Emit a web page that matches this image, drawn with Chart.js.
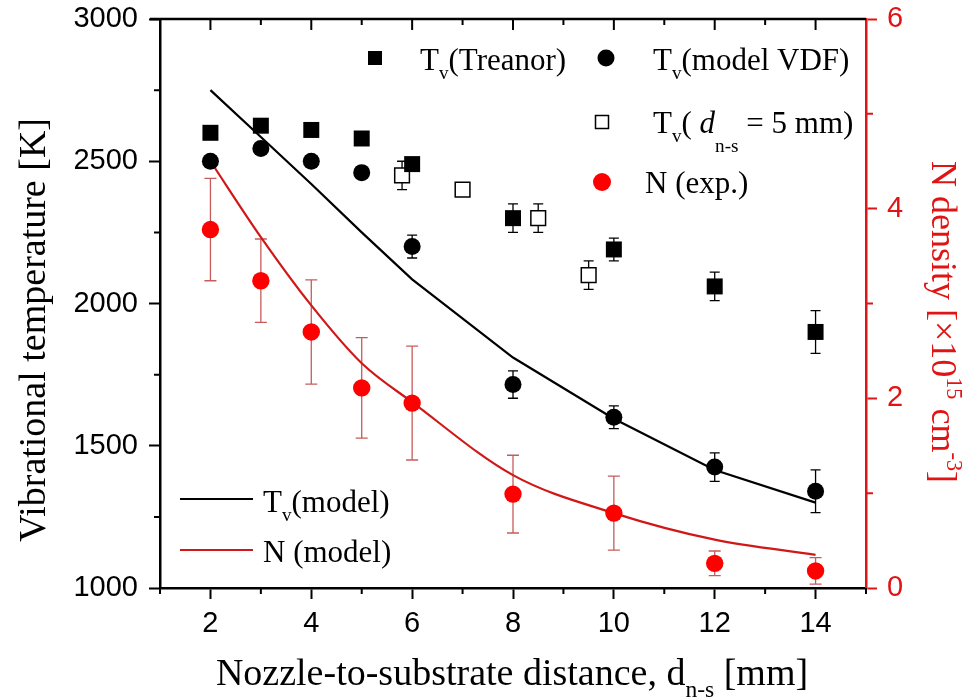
<!DOCTYPE html>
<html>
<head>
<meta charset="utf-8">
<script src="https://cdn.jsdelivr.net/npm/chart.js@4.4.0/dist/chart.umd.min.js"></script>
<style>
  html, body { margin: 0; padding: 0; background: #fff; }
  #caixa { width: 971px; height: 700px; }
</style>
</head>
<body>
<div id="caixa"><canvas id="grafico" width="971" height="700"></canvas></div>
<script>
// dados
const distancia = [2, 3, 4, 5, 6, 8, 10, 12, 14];
const tvTreanor = [2600, 2625, 2610, 2580, 2490, 2300, 2190, 2060, 1900];
const tvTreanorErro = [0, 0, 0, 0, 0, 50, 40, 50, 75];
const tvVdf = [2500, 2545, 2500, 2460, 2200, 1715, 1600, 1425, 1340];
const tvVdfErro = [0, 0, 0, 0, 40, 48, 40, 50, 75];
const dist5mm = [5.8, 7, 8.5, 9.5];
const tv5mm = [2450, 2400, 2300, 2100];
const tv5mmErro = [50, 0, 50, 50];
const nExp = [3.78, 3.24, 2.70, 2.11, 1.95, 0.99, 0.79, 0.26, 0.18];
const nExpErro = [0.54, 0.44, 0.55, 0.53, 0.60, 0.41, 0.39, 0.13, 0.14];
const distModelo = [2, 3, 4, 5, 6, 8, 10, 12, 14];
const tvModelo = [2750, 2585, 2420, 2250, 2085, 1810, 1595, 1415, 1300];
const nModelo = [4.5, 3.70, 2.98, 2.37, 1.96, 1.19, 0.79, 0.51, 0.35];

const xTicks = [2, 4, 6, 8, 10, 12, 14];
const xMenores = [1, 3, 5, 7, 9, 11, 13, 15];
const yTicks = [1000, 1500, 2000, 2500, 3000];
const yMenores = [1250, 1750, 2250, 2750];
const y2Ticks = [0, 2, 4, 6];
const y2Menores = [1, 3, 5];

const VERMELHO = '#ff0000';
const EIXO_VERMELHO = '#e01414';
const SERIF = '"Liberation Serif", "Times New Roman", serif';
const SANS = '"Liberation Sans", Arial, sans-serif';

function pontos(xs, ys) {
    return xs.map((x, i) => ({ x: x, y: ys[i] }));
}

// texto com subscrito / sobrescrito
function medeTexto(ctx, partes, tam) {
    let w = 0;
    partes.forEach(p => {
        let s = (p.sub || p.sup) ? tam * 0.62 : tam;
        ctx.font = (p.it ? 'italic ' : '') + s + 'px ' + SERIF;
        w += ctx.measureText(p.t).width;
    });
    return w;
}

function escreve(ctx, x, y, partes, tam) {
    ctx.textAlign = 'left';
    ctx.textBaseline = 'alphabetic';
    partes.forEach(p => {
        let s = (p.sub || p.sup) ? tam * 0.62 : tam;
        ctx.font = (p.it ? 'italic ' : '') + s + 'px ' + SERIF;
        let dy = p.sub ? tam * (p.baixo || 0.3) : p.sup ? -tam * 0.42 : 0;
        ctx.fillText(p.t, x, y + dy);
        x += ctx.measureText(p.t).width;
    });
}

const barrasErro = {
    id: 'barrasErro',
    beforeDatasetsDraw(chart) {
        const ctx = chart.ctx;
        const sx = chart.scales.x;
        chart.data.datasets.forEach(ds => {
            if (!ds.erros) return;
            const sy = chart.scales[ds.yAxisID];
            ctx.save();
            ctx.strokeStyle = ds.corErro;
            ctx.lineWidth = 1.3;
            ds.data.forEach((p, i) => {
                const e = ds.erros[i];
                if (!e) return;
                const px = sx.getPixelForValue(p.x);
                const y1 = sy.getPixelForValue(p.y + e);
                const y2 = sy.getPixelForValue(p.y - e);
                const c = ds.capa;
                ctx.beginPath();
                ctx.moveTo(px, y1); ctx.lineTo(px, y2);
                ctx.moveTo(px - c, y1); ctx.lineTo(px + c, y1);
                ctx.moveTo(px - c, y2); ctx.lineTo(px + c, y2);
                ctx.stroke();
            });
            ctx.restore();
        });
    }
};

const extras = {
    id: 'extras',
    afterDraw(chart) {
        const ctx = chart.ctx;
        const a = chart.chartArea;
        const sx = chart.scales.x, sy = chart.scales.y, sy2 = chart.scales.y2;
        ctx.save();

        // eixo de cima com ticks para dentro
        ctx.strokeStyle = '#000';
        ctx.lineWidth = 2.5;
        ctx.beginPath();
        ctx.moveTo(a.left - 10, a.top);
        ctx.lineTo(a.right, a.top);
        ctx.stroke();
        ctx.lineWidth = 2;
        ctx.beginPath();
        xTicks.forEach(v => {
            const px = sx.getPixelForValue(v);
            ctx.moveTo(px, a.top); ctx.lineTo(px, a.top + 11);
        });
        xMenores.forEach(v => {
            if (v <= 1 || v >= 15) return;
            const px = sx.getPixelForValue(v);
            ctx.moveTo(px, a.top); ctx.lineTo(px, a.top + 6);
        });
        // ticks menores embaixo e a esquerda
        xMenores.forEach(v => {
            const px = sx.getPixelForValue(v);
            ctx.moveTo(px, a.bottom); ctx.lineTo(px, a.bottom + 6);
        });
        yMenores.forEach(v => {
            const py = sy.getPixelForValue(v);
            ctx.moveTo(a.left, py); ctx.lineTo(a.left - 6, py);
        });
        ctx.stroke();
        ctx.strokeStyle = EIXO_VERMELHO;
        ctx.beginPath();
        y2Menores.forEach(v => {
            const py = sy2.getPixelForValue(v);
            ctx.moveTo(a.right, py); ctx.lineTo(a.right + 7, py);
        });
        ctx.stroke();

        // titulos dos eixos
        ctx.fillStyle = '#000';
        let tEsq = [{ t: 'Vibrational temperature [K]' }];
        let w = medeTexto(ctx, tEsq, 38);
        ctx.save();
        ctx.translate(45, 330);
        ctx.rotate(-Math.PI / 2);
        escreve(ctx, -w / 2, 0, tEsq, 38);
        ctx.restore();

        let tX = [{ t: 'Nozzle-to-substrate distance, d' }, { t: 'n-s', sub: true, baixo: 0.32 }, { t: ' [mm]' }];
        w = medeTexto(ctx, tX, 38);
        escreve(ctx, 512 - w / 2, 685, tX, 38);

        ctx.fillStyle = EIXO_VERMELHO;
        let tDir = [{ t: 'N density [\u00d710' }, { t: '15', sup: true }, { t: ' cm' }, { t: '-3', sup: true }, { t: ']' }];
        w = medeTexto(ctx, tDir, 36);
        ctx.save();
        ctx.translate(932, 322);
        ctx.rotate(Math.PI / 2);
        escreve(ctx, -w / 2, 0, tDir, 36);
        ctx.restore();

        // legendas
        ctx.fillStyle = '#000';
        ctx.fillRect(375 - 7, 58 - 7, 14, 14);
        escreve(ctx, 420, 70, [{ t: 'T' }, { t: 'v', sub: true }, { t: '(Treanor)' }], 31);
        ctx.beginPath();
        ctx.arc(606, 58, 8.5, 0, Math.PI * 2);
        ctx.fill();
        escreve(ctx, 653, 70, [{ t: 'T' }, { t: 'v', sub: true }, { t: '(model VDF)' }], 31);
        ctx.strokeStyle = '#000';
        ctx.lineWidth = 1.5;
        ctx.strokeRect(602 - 6.5, 122 - 6.5, 13, 13);
        escreve(ctx, 653, 133, [{ t: 'T' }, { t: 'v', sub: true }, { t: '( ' }, { t: 'd', it: true }, { t: 'n-s', sub: true, baixo: 0.6 }, { t: ' = 5 mm)' }], 31);
        ctx.fillStyle = VERMELHO;
        ctx.beginPath();
        ctx.arc(602, 182, 9, 0, Math.PI * 2);
        ctx.fill();
        ctx.fillStyle = '#000';
        escreve(ctx, 645, 193, [{ t: 'N (exp.)' }], 31);

        ctx.lineWidth = 2.2;
        ctx.strokeStyle = '#000';
        ctx.beginPath(); ctx.moveTo(180, 499); ctx.lineTo(253, 499); ctx.stroke();
        escreve(ctx, 263, 512, [{ t: 'T' }, { t: 'v', sub: true }, { t: '(model)' }], 31);
        ctx.strokeStyle = '#d01818';
        ctx.beginPath(); ctx.moveTo(180, 550); ctx.lineTo(253, 550); ctx.stroke();
        escreve(ctx, 263, 562, [{ t: 'N (model)' }], 31);

        ctx.restore();
    }
};

const fonteTicks = { family: SANS, size: 29 };

function ajustaVertical(largura) {
    return s => {
        s.width = largura;
        s.paddingTop = 0;
        s.paddingBottom = 0;
    };
}

const config = {
    type: 'scatter',
    data: {
        datasets: [{
            label: 'Tv(Treanor)',
            data: pontos(distancia, tvTreanor),
            yAxisID: 'y',
            pointStyle: 'rect',
            pointRadius: 11.3,
            backgroundColor: '#000',
            borderWidth: 0,
            erros: tvTreanorErro,
            corErro: '#000',
            capa: 5
        }, {
            label: 'Tv(model VDF)',
            data: pontos(distancia, tvVdf),
            yAxisID: 'y',
            pointStyle: 'circle',
            pointRadius: 8.5,
            backgroundColor: '#000',
            borderWidth: 0,
            erros: tvVdfErro,
            corErro: '#000',
            capa: 5
        }, {
            label: 'Tv(d = 5 mm)',
            data: pontos(dist5mm, tv5mm),
            yAxisID: 'y',
            pointStyle: 'rect',
            pointRadius: 10.4,
            backgroundColor: '#fff',
            borderColor: '#000',
            borderWidth: 1.5,
            erros: tv5mmErro,
            corErro: '#000',
            capa: 5
        }, {
            label: 'N (exp.)',
            data: pontos(distancia, nExp),
            yAxisID: 'y2',
            pointStyle: 'circle',
            pointRadius: 8.7,
            backgroundColor: VERMELHO,
            borderWidth: 0,
            erros: nExpErro,
            corErro: 'rgba(185, 50, 50, 0.8)',
            capa: 6
        }, {
            label: 'Tv(model)',
            data: pontos(distModelo, tvModelo),
            yAxisID: 'y',
            showLine: true,
            pointRadius: 0,
            borderColor: '#000',
            borderWidth: 2.2
        }, {
            label: 'N (model)',
            data: pontos(distModelo, nModelo),
            yAxisID: 'y2',
            showLine: true,
            pointRadius: 0,
            borderColor: '#d01818',
            borderWidth: 2.2,
            cubicInterpolationMode: 'monotone'
        }]
    },
    options: {
        responsive: false,
        animation: false,
        devicePixelRatio: 1,
        layout: { padding: { top: 19, left: 0, right: 0, bottom: 0 } },
        plugins: {
            legend: { display: false },
            tooltip: { enabled: false }
        },
        scales: {
            x: {
                type: 'linear',
                position: 'bottom',
                min: 1,
                max: 15,
                afterBuildTicks: s => { s.ticks = xTicks.map(v => ({ value: v })); },
                afterFit: s => { s.height = 112; s.paddingLeft = 0; s.paddingRight = 0; },
                grid: { drawOnChartArea: false, tickLength: 11, tickWidth: 2, color: '#000', tickColor: '#000' },
                border: { color: '#000', width: 2.5 },
                ticks: { font: fonteTicks, color: '#000', padding: 8, maxRotation: 0, callback: v => String(v) }
            },
            y: {
                position: 'left',
                min: 1000,
                max: 3000,
                afterBuildTicks: s => { s.ticks = yTicks.map(v => ({ value: v })); },
                afterFit: ajustaVertical(160),
                grid: { drawOnChartArea: false, tickLength: 11, tickWidth: 2, color: '#000', tickColor: '#000' },
                border: { color: '#000', width: 2.5 },
                ticks: { font: fonteTicks, color: '#000', padding: 11, callback: v => String(v) }
            },
            y2: {
                position: 'right',
                min: 0,
                max: 6,
                afterBuildTicks: s => { s.ticks = y2Ticks.map(v => ({ value: v })); },
                afterFit: ajustaVertical(105),
                grid: { drawOnChartArea: false, tickLength: 11, tickWidth: 2, color: EIXO_VERMELHO, tickColor: EIXO_VERMELHO },
                border: { color: EIXO_VERMELHO, width: 2.5 },
                ticks: { font: fonteTicks, color: EIXO_VERMELHO, padding: 10, callback: v => String(v) }
            }
        }
    },
    plugins: [barrasErro, extras]
};

const meuGrafico = new Chart(document.getElementById('grafico'), config);
</script>
</body>
</html>
